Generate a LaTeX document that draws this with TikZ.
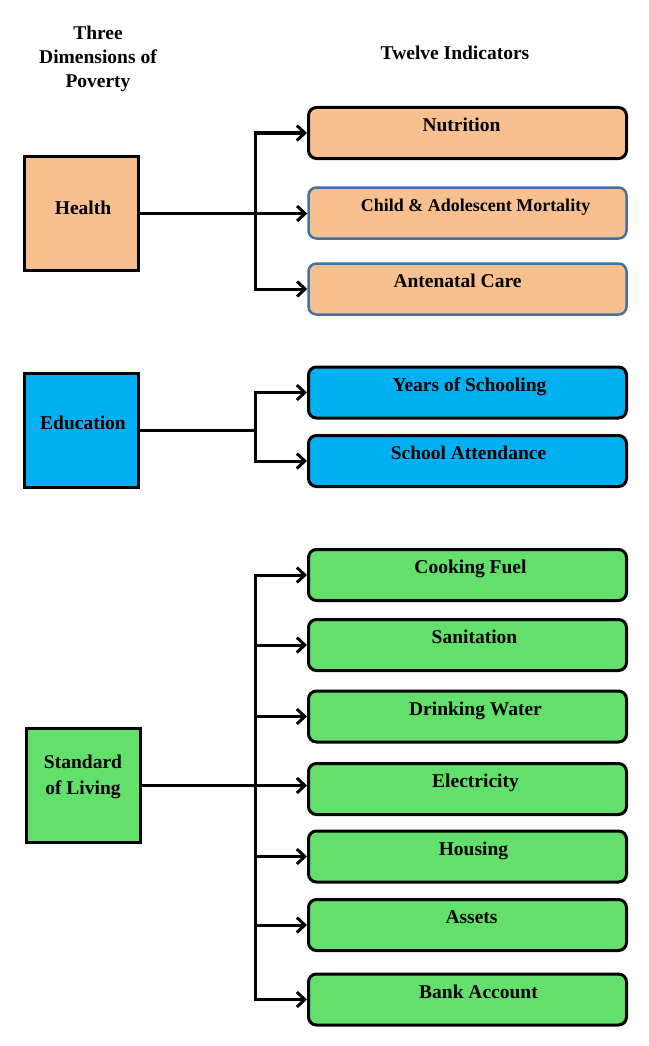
\documentclass[tikz,border=0pt]{standalone}
\usepackage{fontspec}
\setmainfont{Liberation Serif}
\usetikzlibrary{arrows.meta}
\definecolor{healthc}{HTML}{F8C08E}
\definecolor{educc}{HTML}{00B0F0}
\definecolor{livc}{HTML}{63DF6B}
\definecolor{bordblue}{HTML}{41719C}
\tikzset{
  dimbox/.style={draw=black, line width=3pt, minimum width=114pt, minimum height=114pt, inner sep=0pt},
  indbox/.style={draw=black, line width=3pt, rounded corners=8pt, minimum width=318pt, minimum height=51pt, inner sep=0pt},
  bluebord/.style={draw=bordblue, line width=2.5pt},
  lbl/.style={font=\fontsize{19.5}{24}\selectfont\bfseries, inner sep=0pt, align=center},
  ilbl/.style={lbl, anchor=base, xshift=3pt, yshift=1.5pt},
  trunk/.style={line width=3pt, line cap=rect},
  arr/.style={line width=3pt, -{Straight Barb[length=8pt,width=15pt]}}
}
\begin{document}
\begin{tikzpicture}[x=1pt,y=-1pt]
\useasboundingbox (0,0) rectangle (648,1046);

% headers
\node[lbl] (hdim) at (98,59) {Three\\Dimensions of\\Poverty};
\node[lbl, anchor=base] (hind) at (455,59.5) {Twelve Indicators};

% dimension boxes
\node[dimbox, fill=healthc] (health) at (81.5,213.5) {};
\node[lbl, anchor=base] (healthT) at (83,214.5) {Health};
\node[dimbox, fill=educc] (edu) at (81.5,430) {};
\node[lbl, anchor=base] (eduT) at (83,429.5) {Education};
\node[dimbox, fill=livc] (sol) at (83.5,785.5) {};
\node[lbl, font=\fontsize{19.5}{26}\selectfont\bfseries] (solT) at (83,777) {Standard\\of Living};

% health indicators
\node[indbox, fill=healthc] (nutr) at (467.5,133) {};
\node[ilbl, xshift=-9pt] (nutrT) at (nutr.center) {Nutrition};
\node[indbox, bluebord, fill=healthc] (child) at (467.5,213) {};
\node[ilbl, xshift=5pt, font=\fontsize{18}{24}\selectfont\bfseries] (childT) at (child.center) {Child \& Adolescent Mortality};
\node[indbox, bluebord, fill=healthc] (ante) at (467.5,289) {};
\node[ilbl, xshift=-13pt] (anteT) at (ante.center) {Antenatal Care};

% education indicators
\node[indbox, fill=educc] (years) at (467.5,392.5) {};
\node[ilbl, xshift=-1pt] (yearsT) at (years.center) {Years of Schooling};
\node[indbox, fill=educc] (school) at (467.5,461) {};
\node[ilbl, xshift=-2pt] (schoolT) at (school.center) {School Attendance};

% living indicators
\node[indbox, fill=livc] (cook) at (467.5,575) {};
\node[ilbl] (cookT) at (cook.center) {Cooking Fuel};
\node[indbox, fill=livc] (sani) at (467.5,645) {};
\node[ilbl, xshift=4pt] (saniT) at (sani.center) {Sanitation};
\node[indbox, fill=livc] (drink) at (467.5,716.5) {};
\node[ilbl, xshift=5pt] (drinkT) at (drink.center) {Drinking Water};
\node[indbox, fill=livc] (elec) at (467.5,789) {};
\node[ilbl, xshift=5pt] (elecT) at (elec.center) {Electricity};
\node[indbox, fill=livc] (hous) at (467.5,856.5) {};
\node[ilbl, xshift=3pt] (housT) at (hous.center) {Housing};
\node[indbox, fill=livc] (asse) at (467.5,925) {};
\node[ilbl, xshift=1pt] (asseT) at (asse.center) {Assets};
\node[indbox, fill=livc] (bank) at (467.5,999.5) {};
\node[ilbl, xshift=8pt] (bankT) at (bank.center) {Bank Account};

% trunks
\coordinate (tr) at (255,0);

% health connectors
\draw[trunk] (tr |- nutr.west) -- (tr |- ante.west);
\draw[arr] (health.east) -- (health.east -| child.west);
\draw[arr] (tr |- nutr.west) -- (nutr.west);
\draw[arr] (tr |- ante.west) -- (ante.west);

% education connectors
\draw[trunk] (tr |- years.west) -- (tr |- school.west);
\draw[line width=3pt] (edu.east) -- (edu.east -| tr);
\draw[arr] (tr |- years.west) -- (years.west);
\draw[arr] (tr |- school.west) -- (school.west);

% living connectors
\draw[trunk] (tr |- cook.west) -- (tr |- bank.west);
\draw[arr] (sol.east) -- (sol.east -| elec.west);
\draw[arr] (tr |- cook.west) -- (cook.west);
\draw[arr] (tr |- sani.west) -- (sani.west);
\draw[arr] (tr |- drink.west) -- (drink.west);
\draw[arr] (tr |- hous.west) -- (hous.west);
\draw[arr] (tr |- asse.west) -- (asse.west);
\draw[arr] (tr |- bank.west) -- (bank.west);
\end{tikzpicture}
\end{document}
